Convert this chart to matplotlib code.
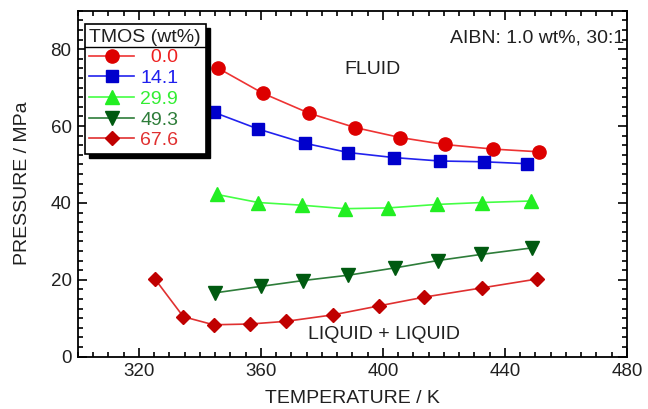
import numpy as np
import matplotlib
matplotlib.use('Agg')
import matplotlib.pyplot as plt
from matplotlib.lines import Line2D
from matplotlib.patches import Rectangle

plt.rcParams['font.family'] = ['Liberation Sans', 'DejaVu Sans']

# data
t_00 = [346.1, 360.7, 375.9, 390.9, 405.7, 420.2, 436.1, 451.0]
p_00 = [75.0, 68.5, 63.3, 59.6, 57.0, 55.2, 54.0, 53.3]
t_14 = [344.5, 359.2, 374.5, 388.7, 403.5, 418.6, 433.0, 447.2]
p_14 = [63.6, 59.2, 55.5, 53.1, 51.8, 50.9, 50.7, 50.2]
t_30 = [345.6, 359.2, 373.4, 387.6, 401.8, 417.7, 432.5, 448.6]
p_30 = [42.2, 40.1, 39.4, 38.5, 38.7, 39.6, 40.1, 40.5]
t_49 = [345.0, 360.1, 373.8, 388.7, 404.0, 417.9, 432.2, 448.9]
p_49 = [16.6, 18.3, 19.8, 21.2, 23.1, 25.0, 26.6, 28.3]
t_68 = [325.3, 334.6, 344.5, 356.5, 368.3, 383.8, 398.6, 413.6, 432.5, 450.5]
p_68 = [20.2, 10.4, 8.3, 8.5, 9.2, 10.9, 13.2, 15.5, 17.9, 20.2]

labels = ['\u20070.0', '14.1', '29.9', '49.3', '67.6']
series = [(t_00, p_00), (t_14, p_14), (t_30, p_30), (t_49, p_49), (t_68, p_68)]
markers = ['o', 's', '^', 'v', 'D']
msizes = [9.5, 8, 9.5, 9.5, 7.5]
mcolors = ['#dd0000', '#0000cc', '#22ee22', '#005a10', '#c00000']
lcolors = ['#ee3333', '#2222ee', '#44ff44', '#2e7d3a', '#e03030']
tcolors = ['#ee2020', '#2020ee', '#33ee33', '#2e7d3a', '#e03030']

fs = 14
fig = plt.figure(figsize=(6.48, 4.09), dpi=100)
ax = fig.add_axes([0.12, 0.1279, 0.8476, 0.8460])

for (t, p), m, ms, mc, lc, lab in zip(series, markers, msizes, mcolors, lcolors, labels):
    ax.plot(t, p, color=lc, lw=1.2, marker=m, ms=ms, mfc=mc, mec=mc, label=lab)

ax.set_xlim(300, 480)
ax.set_ylim(0, 90)
ax.set_xticks([320, 360, 400, 440, 480])
ax.set_yticks([0, 20, 40, 60, 80])
ax.set_xticks(np.arange(300, 481, 5), minor=True)
ax.set_yticks(np.arange(0, 90.1, 2.5), minor=True)
ax.tick_params(which='both', direction='in', top=True, right=True, labelsize=13.5,
               width=1.2, labelcolor='#202020')
ax.tick_params(which='major', length=6.5, pad=4.5)
ax.tick_params(which='minor', length=3.5)
for s in ax.spines.values():
    s.set_linewidth(1.3)

ax.set_xlabel('TEMPERATURE / K', fontsize=fs, labelpad=7, color='#202020')
ax.set_ylabel('PRESSURE / MPa', fontsize=fs, labelpad=14, color='#202020')

ax.text(396.7, 74.7, 'FLUID', fontsize=fs, ha='center', va='center', color='#202020')
ax.text(400.4, 5.7, 'LIQUID + LIQUID', fontsize=fs, ha='center', va='center', color='#202020')
ax.text(479, 83.0, 'AIBN: 1.0 wt%, 30:1', fontsize=fs, ha='right', va='center', color='#202020')

leg = ax.legend(loc='upper left', bbox_to_anchor=(0.0125, 0.962), title='TMOS (wt%)',
                fontsize=fs, title_fontsize=fs, alignment='left', frameon=True,
                fancybox=False, edgecolor='black', framealpha=1,
                handlelength=2.3, handletextpad=0.3, labelspacing=0.16,
                borderpad=0.25, borderaxespad=0)
leg.get_frame().set_linewidth(1.2)
leg.get_title().set_color('#202020')
for txt, c in zip(leg.get_texts(), tcolors):
    txt.set_color(c)

# separator under the legend title and a black drop shadow
fig.canvas.draw()
inv = ax.transAxes.inverted()
fb = leg.get_frame().get_window_extent()
tb = leg.get_title().get_window_extent()
y_sep = tb.y0 - 1
(x0, ys), (x1, _) = inv.transform([(fb.x0, y_sep), (fb.x1, y_sep)])
ax.add_line(Line2D([x0, x1], [ys, ys], color='black', lw=1.0,
                   transform=ax.transAxes, zorder=6, clip_on=False))
(sx0, sy0), (sx1, sy1) = inv.transform([(fb.x0 + 4, fb.y0 - 4), (fb.x1 + 4, fb.y1 - 4)])
ax.add_patch(Rectangle((sx0, sy0), sx1 - sx0, sy1 - sy0, color='black',
                       transform=ax.transAxes, zorder=4.5, clip_on=False))

fig.savefig('out.png', dpi=100)
